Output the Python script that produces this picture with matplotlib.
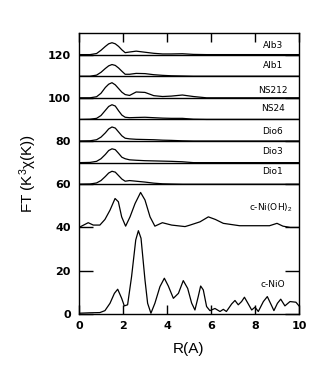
import matplotlib.pyplot as plt

plt.rcParams['font.family'] = ['Liberation Sans', 'DejaVu Sans']
plt.rcParams['mathtext.fontset'] = 'custom'
plt.rcParams['mathtext.rm'] = 'Liberation Sans'
plt.rcParams['mathtext.it'] = 'Liberation Sans:italic'
plt.rcParams['mathtext.bf'] = 'Liberation Sans:bold'

# stacked samples: common R grid, FT magnitude above each baseline
r_top = [0, 0.5, 0.8, 1.0, 1.2, 1.35, 1.5, 1.65, 1.8, 1.95, 2.1, 2.3, 2.6, 3.0,
         3.4, 3.8, 4.2, 4.7, 5.2, 5.8, 10]
top_names = ['Alb3', 'Alb1', 'NS212', 'NS24', 'Dio6', 'Dio3', 'Dio1']
top_base = [120, 110, 100, 90, 80, 70, 60]
alb3 = [0, 0, 0.5, 2.0, 3.8, 5.0, 5.5, 5.0, 3.8, 2.2, 0.9, 1.2, 1.6, 1.1, 0.6, 0.3, 0.3, 0.4, 0.1, 0, 0]
alb1 = [0, 0, 0.5, 1.8, 3.6, 4.8, 5.4, 5.0, 3.8, 2.3, 0.9, 0.9, 1.3, 1.2, 0.7, 0.4, 0.2, 0.1, 0, 0, 0]
ns212 = [0, 0, 0.5, 2.1, 4.8, 6.3, 7.0, 6.0, 4.3, 2.6, 1.5, 1.1, 2.7, 2.5, 1.0, 0.6, 0.8, 1.3, 0.6, 0, 0]
ns24 = [0, 0.1, 0.5, 1.8, 4.2, 6.0, 6.8, 6.2, 4.0, 2.0, 1.0, 0.8, 0.9, 1.0, 0.8, 0.6, 0.5, 0.5, 0.1, 0, 0]
dio6 = [0, 0.1, 0.6, 1.8, 3.8, 5.6, 6.5, 6.0, 4.2, 2.4, 1.3, 1.0, 0.8, 0.7, 0.6, 0.4, 0.3, 0.1, 0, 0, 0]
dio3 = [0, 0.1, 0.6, 1.8, 3.8, 5.6, 6.4, 6.0, 4.3, 2.5, 1.8, 1.3, 1.1, 0.9, 0.8, 0.7, 0.6, 0.4, 0, 0, 0]
dio1 = [0, 0.1, 0.6, 1.7, 3.6, 5.2, 6.0, 5.6, 4.0, 2.4, 1.4, 1.7, 1.4, 1.0, 0.5, 0.2, 0.1, 0, 0, 0, 0]
top_curves = [alb3, alb1, ns212, ns24, dio6, dio3, dio1]

# c-Ni(OH)2 reference
r_nioh = [0, 0.42, 0.65, 0.95, 1.18, 1.41, 1.64, 1.79, 1.94, 2.12, 2.32, 2.55, 2.8, 3.0,
          3.23, 3.45, 3.79, 4.21, 4.82, 5.05, 5.5, 5.88, 6.2, 6.56, 7.3, 8.66, 9.0, 9.27, 9.6, 10]
ft_nioh = [40, 42.2, 41.1, 41.1, 43.7, 48.0, 53.4, 51.9, 44.9, 40.6, 44.9, 51.1, 56.2, 52.7,
           44.9, 40.6, 42.2, 41.1, 40.4, 41.1, 42.6, 44.9, 43.7, 41.9, 40.8, 40.8, 41.9, 40.6, 40.0, 40.0]

# c-NiO reference
r_nio = [0, 0.5, 0.95, 1.18, 1.41, 1.61, 1.76, 1.94, 2.06, 2.21, 2.39, 2.58, 2.7, 2.82, 3.0,
         3.12, 3.27, 3.45, 3.68, 3.88, 4.06, 4.29, 4.52, 4.74, 4.94, 5.12, 5.27, 5.42, 5.53,
         5.65, 5.8, 5.95, 6.18, 6.41, 6.56, 6.7, 6.94, 7.09, 7.24, 7.39, 7.52, 7.65, 7.85,
         8.0, 8.15, 8.38, 8.56, 8.76, 8.86, 9.02, 9.17, 9.36, 9.59, 9.86, 10]
ft_nio = [0.3, 0.5, 0.6, 1.5, 4.9, 9.5, 11.4, 7.2, 3.7, 4.2, 17.2, 34.2, 38.5, 35.0, 15.7,
          4.9, 0.3, 4.9, 12.6, 16.5, 12.9, 7.2, 9.5, 15.4, 11.8, 5.0, 1.8, 8.0, 12.9,
          11.1, 3.4, 1.5, 2.5, 1.1, 2.1, 1.1, 4.6, 6.2, 4.2, 5.7, 7.7, 5.4, 1.8,
          3.1, 1.1, 5.7, 8.0, 3.7, 1.5, 4.9, 6.8, 3.7, 5.7, 5.4, 3.7]

label_y = [124.3, 115.0, 103.5, 95.2, 84.2, 75.0, 65.7]
small = dict(fontsize=6.5, family='DejaVu Sans', ha='center', va='center')

fig = plt.figure(figsize=(3.25, 3.75), dpi=100)
ax = fig.add_axes([0.243, 0.163, 0.677, 0.749])

for name, base, vals, ly in zip(top_names, top_base, top_curves, label_y):
    ax.axhline(base, color='black', lw=1.0)
    ax.plot(r_top, [base + v for v in vals], color='black', lw=0.9)
    ax.text(8.8, ly, name, **small)

ax.plot(r_nioh, ft_nioh, color='black', lw=0.9)
ax.text(8.7, 49.3, 'c-Ni(OH)$_2$', **small)
ax.plot(r_nio, ft_nio, color='black', lw=0.9)
ax.text(8.8, 13.7, 'c-NiO', **small)

ax.set_xlim(0, 10)
ax.set_ylim(0, 130)
ax.set_xticks([0, 2, 4, 6, 8, 10])
ax.set_yticks([0, 20, 40, 60, 80, 100, 120])
ax.tick_params(axis='x', direction='in', length=6.5, width=1, top=True, pad=5)
ax.tick_params(axis='y', direction='in', length=10, width=1, right=True, pad=6)
for lab in ax.get_xticklabels() + ax.get_yticklabels():
    lab.set_family('DejaVu Sans')
    lab.set_fontweight('bold')
    lab.set_fontsize(8)
for s in ax.spines.values():
    s.set_linewidth(1)

ax.set_xlabel('R(A)', fontsize=11, labelpad=8)
ax.set_ylabel('FT (K$^3$χ(K))', fontsize=11, labelpad=6)

fig.savefig('out.png', dpi=100)
